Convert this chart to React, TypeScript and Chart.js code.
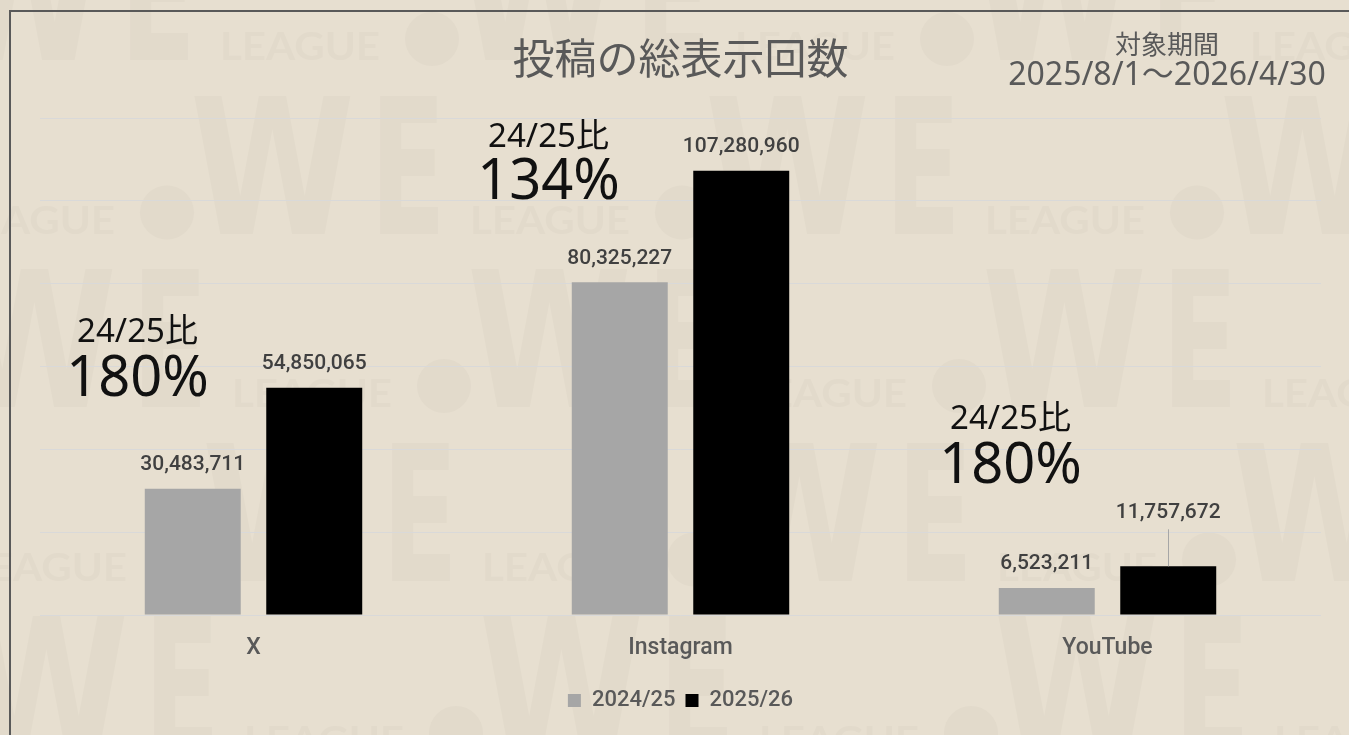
import React, { useEffect, useRef } from "react";
import { Chart, registerables } from "chart.js";

Chart.register(...registerables);

// ---- data ----
const categories = ["X", "Instagram", "YouTube"];
const seriesNames = ["2024/25", "2025/26"];
const values2024 = [30483711, 80325227, 6523211];
const values2025 = [54850065, 107280960, 11757672];
const yMin = 0;
const yMax = 120000000;
const yStep = 20000000;
const titleText = "投稿の総表示回数";
const periodLabel = "対象期間";
const periodText = "2025/8/1～2026/4/30";
const ratioPrefix = "24/25比";

// ---- styles ----
const BG = "#e7dfd0";
const WATERMARK = "#e2dacb";
const GRID = "#d9d9d9";
const GRAY_BAR = "#a6a6a6";
const BLACK_BAR = "#000000";
const TEXT_GRAY = "#595959";
const LABEL_DARK = "#404040";
const CJK = "'Noto Sans CJK JP', 'Noto Sans', sans-serif";
const MIXED = "'Noto Sans', 'Noto Sans CJK JP', sans-serif";
const LATIN = "Roboto, 'Noto Sans', sans-serif";

// annotation placement: offset from category centre and vertical anchors in axis units
const annotationPlacement = [
  { dx: -116, smallAt: 68.1e6, bigAt: 56.7e6 },
  { dx: -132, smallAt: 115.3e6, bigAt: 104.3e6 },
  { dx: -97, smallAt: 47.2e6, bigAt: 35.7e6 },
];
// per-dataset label lift (px above bar top)
const labelLift = [
  [24, 24, 24],
  [24, 24, 54],
];

const fmt = (v: number) => v.toLocaleString("en-US");

const backgroundPlugin = {
  id: "bgWatermark",
  beforeDraw(chart: any) {
    const ctx = chart.ctx as CanvasRenderingContext2D;
    const W = chart.width;
    const H = chart.height;
    ctx.save();
    ctx.fillStyle = BG;
    ctx.fillRect(0, 0, W, H);
    ctx.fillStyle = WATERMARK;
    const drawFit = (text: string, x: number, base: number, width: number, cap: number, family: string) => {
      const size = cap / 0.73;
      ctx.font = `bold ${size}px ${family}`;
      const m = ctx.measureText(text).width;
      ctx.save();
      ctx.translate(x, base);
      ctx.scale(width / m, 1);
      ctx.textAlign = "left";
      ctx.textBaseline = "alphabetic";
      ctx.fillText(text, 0, 0);
      ctx.restore();
    };
    const period = 515;
    for (let r = -1; r < 6; r++) {
      const by = 60 + r * 173.5;
      const start = (r % 2 === 0 ? -83 : 167) + Math.floor(r / 2) * 12;
      for (let k = -2; k < 4; k++) {
        const cx = start + k * period;
        ctx.beginPath();
        ctx.arc(cx, by - 21, 27, 0, Math.PI * 2);
        ctx.fill();
        drawFit("W", cx + 23, by, 165, 138, "'DejaVu Sans'");
        drawFit("E", cx + 203, by, 76, 138, "'DejaVu Sans'");
        drawFit("LEAGUE", cx + 303, by, 160, 28, "Lato, 'DejaVu Sans'");
      }
    }
    // slide frame
    ctx.strokeStyle = "#595959";
    ctx.lineWidth = 2;
    ctx.strokeRect(10, 11, 3000, 3000);
    ctx.restore();
  },
};

const labelsPlugin = {
  id: "valueLabels",
  afterDatasetsDraw(chart: any) {
    const ctx = chart.ctx as CanvasRenderingContext2D;
    ctx.save();
    ctx.textAlign = "center";
    ctx.textBaseline = "middle";
    chart.data.datasets.forEach((ds: any, di: number) => {
      const meta = chart.getDatasetMeta(di);
      meta.data.forEach((bar: any, i: number) => {
        const lift = labelLift[di][i];
        const y = bar.y - lift;
        if (lift > 30) {
          ctx.strokeStyle = GRAY_BAR;
          ctx.lineWidth = 1;
          ctx.beginPath();
          ctx.moveTo(Math.round(bar.x) + 0.5, y + 17);
          ctx.lineTo(Math.round(bar.x) + 0.5, bar.y);
          ctx.stroke();
        }
        ctx.font = `500 21px ${LATIN}`;
        ctx.fillStyle = LABEL_DARK;
        ctx.fillText(fmt(ds.data[i] as number), bar.x, y);
      });
    });

    // ratio annotations
    const xs = chart.scales.x;
    const ys = chart.scales.y;
    ctx.fillStyle = "#111111";
    annotationPlacement.forEach((p, i) => {
      const x = xs.getPixelForValue(i) + p.dx;
      const ratio = Math.round((values2025[i] / values2024[i]) * 100) + "%";
      ctx.font = `33px ${MIXED}`;
      ctx.fillText(ratioPrefix, x, ys.getPixelForValue(p.smallAt));
      ctx.font = `56px ${MIXED}`;
      ctx.fillText(ratio, x, ys.getPixelForValue(p.bigAt));
    });

    // period text top-right
    const cx = chart.width - 182;
    ctx.fillStyle = TEXT_GRAY;
    ctx.font = `26px ${CJK}`;
    ctx.fillText(periodLabel, cx, 44);
    ctx.font = `32px ${MIXED}`;
    ctx.fillText(periodText, cx, 76);
    ctx.restore();
  },
};

export default function App() {
  const canvasRef = useRef<HTMLCanvasElement | null>(null);

  useEffect(() => {
    const canvas = canvasRef.current;
    if (!canvas) return;
    const chart = new Chart(canvas, {
      type: "bar",
      data: {
        labels: categories,
        datasets: [
          {
            label: seriesNames[0],
            data: values2024,
            backgroundColor: GRAY_BAR,
            borderWidth: 0,
            categoryPercentage: 0.569,
            barPercentage: 0.79,
          },
          {
            label: seriesNames[1],
            data: values2025,
            backgroundColor: BLACK_BAR,
            borderWidth: 0,
            categoryPercentage: 0.569,
            barPercentage: 0.79,
          },
        ],
      },
      options: {
        responsive: false,
        animation: false,
        devicePixelRatio: 1,
        layout: { padding: { left: 40, right: 28, top: 10, bottom: 13.5 } },
        scales: {
          x: {
            grid: { display: false, drawTicks: false },
            border: { display: false },
            ticks: {
              padding: 19,
              color: TEXT_GRAY,
              font: { family: LATIN, size: 23, weight: "500" as any },
            },
            afterFit: (scale: any) => {
              scale.height = 64.5;
            },
          },
          y: {
            min: yMin,
            max: yMax,
            ticks: { display: false, stepSize: yStep },
            grid: { color: GRID, lineWidth: 1, drawTicks: false },
            border: { display: false },
          },
        },
        plugins: {
          title: {
            display: true,
            text: titleText,
            color: TEXT_GRAY,
            font: { family: CJK, size: 42, weight: "normal" as any },
            padding: { top: 23, bottom: 34.6 },
          },
          legend: {
            display: true,
            position: "bottom",
            labels: {
              boxWidth: 13,
              boxHeight: 13,
              padding: 10,
              color: TEXT_GRAY,
              font: { family: LATIN, size: 22, weight: "500" as any },
            },
          },
          tooltip: { enabled: false },
        },
      },
      plugins: [backgroundPlugin, labelsPlugin],
    });
    return () => chart.destroy();
  }, []);

  return (
    <div
      style={{
        position: "fixed",
        left: 0,
        top: 0,
        width: 1349,
        height: 735,
        overflow: "hidden",
        background: BG,
      }}
    >
      <canvas ref={canvasRef} width={1349} height={735} style={{ display: "block" }} />
    </div>
  );
}
